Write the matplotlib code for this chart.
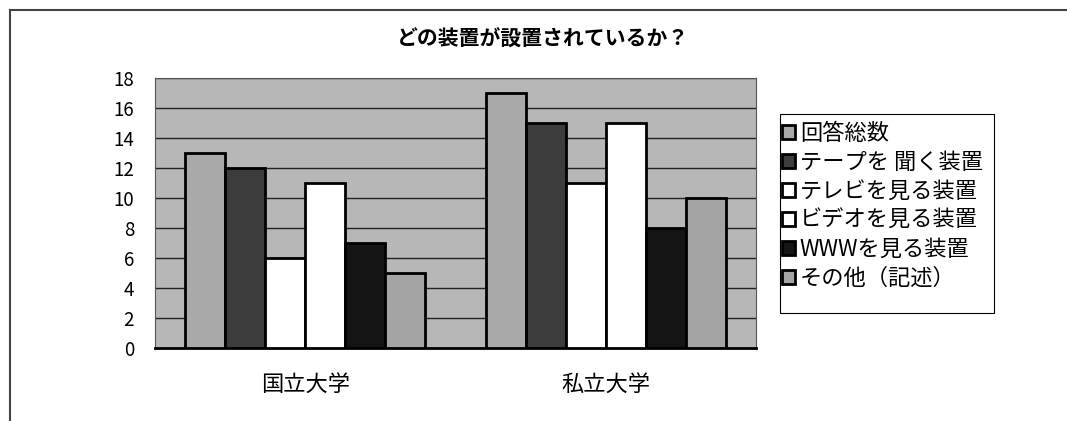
import matplotlib
matplotlib.use("Agg")
import matplotlib.pyplot as plt
import numpy as np
from matplotlib.patches import Patch, Rectangle
from matplotlib.lines import Line2D

plt.rcParams['font.family'] = ['Noto Sans CJK JP', 'DejaVu Sans']

categories = ["国立大学", "私立大学"]
series_names = ["回答総数", "テープを 聞く装置", "テレビを見る装置", "ビデオを見る装置", "WWWを見る装置", "その他（記述）"]
values = [
    [13, 17],
    [12, 15],
    [6, 11],
    [11, 15],
    [7, 8],
    [5, 10],
]
yticks = [0, 2, 4, 6, 8, 10, 12, 14, 16, 18]
title = "どの装置が設置されているか？"

colors = ["#a9a9a9", "#3c3c3c", "#ffffff", "#ffffff", "#141414", "#a4a4a4"]

W, H = 1067, 421
fig = plt.figure(figsize=(W/100, H/100), dpi=100)
ax = fig.add_axes([155/W, 1-348/H, 601/W, 270/H])
ax.set_facecolor("#b7b7b7")

n = len(series_names)
bw = 0.8 / n
x = np.arange(len(categories))
for i, (name, vals) in enumerate(zip(series_names, values)):
    ax.bar(x - 0.4 + bw*(i+0.5), vals, width=bw, color=colors[i],
           edgecolor="black", linewidth=2.0, label=name, zorder=3)

ax.set_xlim(-0.5, 1.5)
ax.set_ylim(0, 18)
ax.set_yticks(yticks)
ax.set_yticklabels([str(t) for t in yticks], fontsize=13.5)
ax.set_xticks(x)
ax.set_xticklabels(categories, fontsize=16)
ax.tick_params(axis='y', length=0, pad=15)
ax.tick_params(axis='x', length=0, pad=18)
ax.grid(axis='y', color="#222222", linewidth=1.0, zorder=1)
for s in ["top", "right", "left"]:
    ax.spines[s].set_color("#555555")
    ax.spines[s].set_linewidth(0.8)
ax.spines["bottom"].set_color("black")
ax.spines["bottom"].set_linewidth(2.0)

fig.text(543/W, 1-39/H, title, ha="center", va="center", fontsize=15, fontweight="bold")

handles = [Patch(facecolor=colors[i], edgecolor="black", linewidth=2.0) for i in range(n)]
leg = fig.legend(handles, series_names, loc="upper left",
                 bbox_to_anchor=(782/W, 1-122/H), fontsize=16,
                 frameon=False,
                 handlelength=0.6, handleheight=0.6, handletextpad=0.2,
                 labelspacing=0.27, borderpad=0.0, borderaxespad=0)
fig.add_artist(Rectangle((780/W, 1-313/H), 214/W, 199/H, transform=fig.transFigure,
                         facecolor="none", edgecolor="black", linewidth=0.8))

# outer chart border
fig.add_artist(Line2D([10/W, 10/W], [0, 1-10/H], transform=fig.transFigure, color="#444444", linewidth=1.5))
fig.add_artist(Line2D([10/W, 1], [1-10/H, 1-10/H], transform=fig.transFigure, color="#444444", linewidth=1.5))

fig.savefig("out.png", dpi=100, facecolor="white")
